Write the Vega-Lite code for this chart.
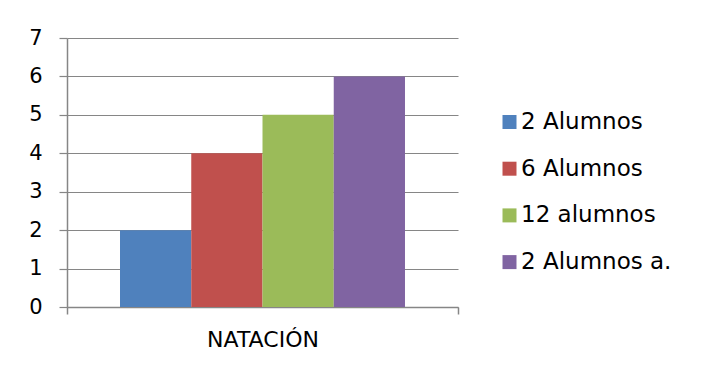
{
  "$schema": "https://vega.github.io/schema/vega-lite/v6.json",
  "width": 391,
  "height": 269,
  "autosize": {"type": "none"},
  "padding": {"left": 67, "top": 38, "right": 243, "bottom": 60},
  "background": "white",
  "config": {
    "view": {"stroke": null},
    "font": "DejaVu Sans",
    "axis": {"labelFont": "DejaVu Sans", "labelColor": "black"},
    "legend": {"labelFont": "DejaVu Sans", "labelColor": "black"}
  },
  "data": {
    "values": [
      {"deporte": "NATACIÓN", "grupo": "2 Alumnos", "alumnos": 2},
      {"deporte": "NATACIÓN", "grupo": "6 Alumnos", "alumnos": 4},
      {"deporte": "NATACIÓN", "grupo": "12 alumnos", "alumnos": 5},
      {"deporte": "NATACIÓN", "grupo": "2 Alumnos a.", "alumnos": 6}
    ]
  },
  "mark": {"type": "bar"},
  "encoding": {
    "x": {
      "field": "deporte",
      "type": "nominal",
      "scale": {"paddingInner": 0, "paddingOuter": 0},
      "axis": {
        "title": null,
        "labelAngle": 0,
        "labelFontSize": 22,
        "labelPadding": 15,
        "tickBand": "extent",
        "tickSize": 7,
        "tickColor": "#868686",
        "tickWidth": 1.5,
        "domainColor": "#868686",
        "domainWidth": 1.5,
        "grid": false
      }
    },
    "xOffset": {
      "field": "grupo",
      "type": "nominal",
      "sort": ["2 Alumnos", "6 Alumnos", "12 alumnos", "2 Alumnos a."],
      "scale": {"paddingInner": 0, "paddingOuter": 0.744}
    },
    "y": {
      "field": "alumnos",
      "type": "quantitative",
      "scale": {"domain": [0, 7], "nice": false},
      "axis": {
        "title": null,
        "values": [0, 1, 2, 3, 4, 5, 6, 7],
        "tickSize": 8,
        "labelPadding": 17,
        "labelFontSize": 21,
        "gridColor": "#868686",
        "gridWidth": 1.2,
        "domainColor": "#868686",
        "domainWidth": 1.5,
        "tickColor": "#868686",
        "tickWidth": 1.2
      }
    },
    "color": {
      "field": "grupo",
      "type": "nominal",
      "sort": ["2 Alumnos", "6 Alumnos", "12 alumnos", "2 Alumnos a."],
      "scale": {"range": ["#4F81BD", "#C0504D", "#9BBB59", "#8064A2"]},
      "legend": {
        "title": null,
        "orient": "none",
        "legendX": 431,
        "legendY": 72.5,
        "padding": 0,
        "symbolType": "square",
        "symbolSize": 196,
        "symbolStrokeWidth": 0,
        "labelFontSize": 23,
        "labelOffset": 0,
        "rowPadding": 22.7
      }
    }
  }
}
